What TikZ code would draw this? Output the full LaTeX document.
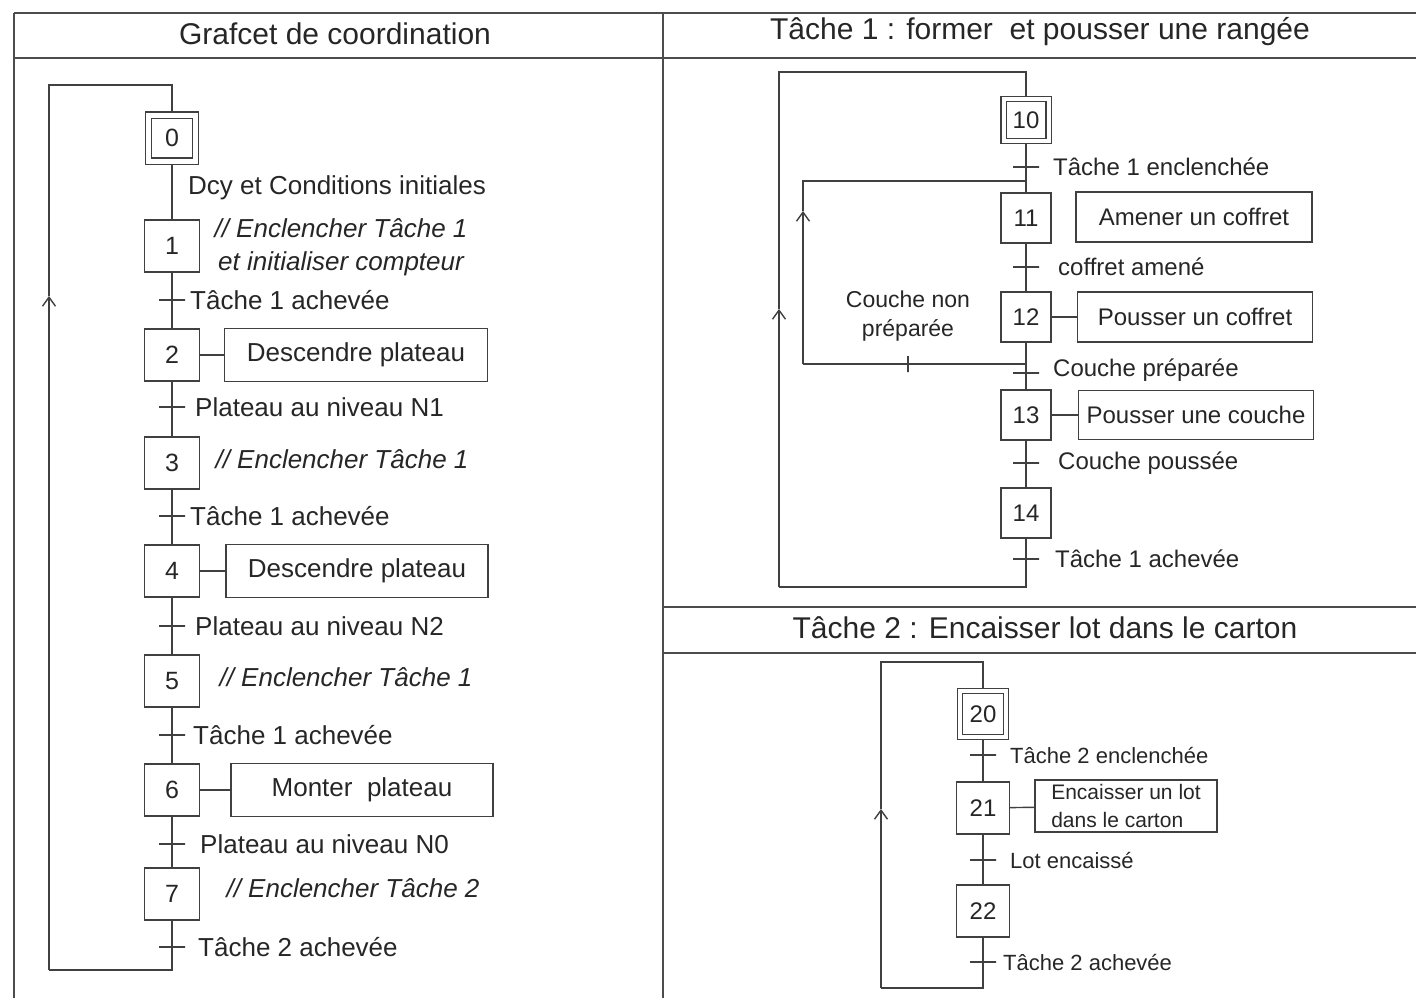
\documentclass[tikz,border=0pt]{standalone}
\usepackage{fontspec}
\setmainfont{Liberation Sans}
\usetikzlibrary{arrows.meta}
\begin{document}
\begin{tikzpicture}[x=1pt,y=-1pt,
  ln/.style={draw=black!75, line width=1.4pt},
  frame/.style={draw=black!70, line width=1.6pt},
  stepbox/.style={draw=black!75, line width=1.4pt, minimum width=55pt, minimum height=52pt, inner sep=0pt, text=black!85, font=\fontsize{25}{30}\selectfont},
  initstep/.style={stepbox, minimum width=47pt, minimum height=46pt, double=white, double distance=5pt, outer sep=3.5pt},
  stepR/.style={stepbox, minimum width=50pt, minimum height=50pt, font=\fontsize{24}{28}\selectfont},
  initR/.style={stepR, minimum width=45pt, minimum height=42pt, double=white, double distance=4pt, outer sep=3pt},
  trans/.style={draw=black!75, line width=1.4pt, minimum width=26pt, minimum height=0pt, inner sep=0pt, outer sep=0pt},
  vtick/.style={trans, minimum width=0pt, minimum height=16pt},
  act/.style={draw=black!75, line width=1.4pt, minimum height=53pt, inner sep=0pt, text=black!85, font=\fontsize{26}{31}\selectfont},
  lbl/.style={inner sep=0pt, anchor=west, text=black!85, font=\fontsize{26}{31}\selectfont},
  lblR/.style={lbl, font=\fontsize{24}{29}\selectfont},
  lblS/.style={lbl, font=\fontsize{22}{27}\selectfont},
  ital/.style={inner sep=0pt, text=black!85, font=\fontsize{26}{33}\selectfont\itshape},
  head/.style={inner sep=0pt, text=black!85, font=\fontsize{30}{36}\selectfont},
  arr/.style={ln, -{Straight Barb[length=9pt,width=13pt]}}
]
\useasboundingbox (0,0) rectangle (1416,998);

% ---------- frame ----------
\coordinate (F1) at (14,13);   \coordinate (F2) at (1416,13);
\coordinate (F3) at (14,58);   \coordinate (F4) at (1416,58);
\coordinate (F5) at (14,998);  \coordinate (F6) at (663,13);
\coordinate (F7) at (663,998);
\coordinate (F8) at (663,607); \coordinate (F9) at (1416,607);
\coordinate (F10) at (663,653); \coordinate (F11) at (1416,653);
\draw[frame] (F1) -- (F2);
\draw[frame] (F3) -- (F4);
\draw[frame] (F1) -- (F5);
\draw[frame] (F6) -- (F7);
\draw[frame] (F8) -- (F9);
\draw[frame] (F10) -- (F11);
\node[head] (h1) at (335,34) {Grafcet de coordination};
\node[head] (h2) at (1040,32) {Tâche 1 : former\ \ et pousser une rangée};
\node[head] (h3) at (1045,628) {Tâche 2 : Encaisser lot dans le carton};

% ---------- Grafcet de coordination ----------
\node[initstep] (s0) at (172,138) {0};
\coordinate (t0) at (172,188);
\node[lbl] (l0) at (188,188) {Dcy et Conditions initiales};
\node[stepbox] (s1) at (172,246) {1};
\node[ital, align=center] (x1) at (341,247) {// Enclencher Tâche 1\\et initialiser compteur};
\node[trans] (t1) at (172,300) {};
\node[lbl] (l1) at (190,300) {Tâche 1 achevée};
\node[stepbox] (s2) at (172,355) {2};
\node[act, minimum width=263pt] (a2) at (356,355) {Descendre plateau};
\node[trans] (t2) at (172,407) {};
\node[lbl] (l2) at (195,407) {Plateau au niveau N1};
\node[stepbox] (s3) at (172,463) {3};
\node[ital] (x3) at (342,459) {// Enclencher Tâche 1};
\node[trans] (t3) at (172,516) {};
\node[lbl] (l3) at (190,516) {Tâche 1 achevée};
\node[stepbox] (s4) at (172,571) {4};
\node[act, minimum width=262pt] (a4) at (357,571) {Descendre plateau};
\node[trans] (t4) at (172,626) {};
\node[lbl] (l4) at (195,626) {Plateau au niveau N2};
\node[stepbox] (s5) at (172,681) {5};
\node[ital] (x5) at (346,677) {// Enclencher Tâche 1};
\node[trans] (t5) at (172,735) {};
\node[lbl] (l5) at (193,735) {Tâche 1 achevée};
\node[stepbox] (s6) at (172,790) {6};
\node[act, minimum width=262pt] (a6) at (362,790) {Monter\ \ plateau};
\node[trans] (t6) at (172,844) {};
\node[lbl] (l6) at (200,844) {Plateau au niveau N0};
\node[stepbox] (s7) at (172,894) {7};
\node[ital] (x7) at (353,888) {// Enclencher Tâche 2};
\node[trans] (t7) at (172,947) {};
\node[lbl] (l7) at (198,947) {Tâche 2 achevée};
\coordinate (Lb) at (172,970);
\coordinate (Lbl) at (49,970);
\coordinate (La) at (49,296);
\coordinate (Ltl) at (49,85);
\coordinate (Lt) at (172,85);

\draw[ln] (s0) -- (t0) -- (s1) -- (t1) -- (s2) -- (t2) -- (s3) -- (t3) -- (s4)
  -- (t4) -- (s5) -- (t5) -- (s6) -- (t6) -- (s7) -- (t7) -- (Lb) -- (Lbl);
\draw[arr] (Lbl) -- (La);
\draw[ln] (La) -- (Ltl) -- (Lt) -- (s0);
\draw[ln] (s2) -- (a2);
\draw[ln] (s4) -- (a4);
\draw[ln] (s6) -- (a6);

% ---------- Tache 1 ----------
\node[initR] (s10) at (1026,120) {10};
\node[trans] (t10) at (1026,167) {};
\node[lblR] (l10) at (1053,167) {Tâche 1 enclenchée};
\coordinate (j1) at (1026,181);
\node[stepR] (s11) at (1026,218) {11};
\node[act, minimum width=236pt, minimum height=50pt, font=\fontsize{24}{29}\selectfont] (a11) at (1194,217) {Amener un coffret};
\node[trans] (t11) at (1026,267) {};
\node[lblR] (l11) at (1058,267) {coffret amené};
\node[stepR] (s12) at (1026,317) {12};
\node[act, minimum width=235pt, minimum height=50pt, font=\fontsize{24}{29}\selectfont] (a12) at (1195,317) {Pousser un coffret};
\coordinate (j2) at (1026,364);
\node[trans] (t12) at (1026,373) {};
\node[lblR] (l12) at (1053,370) {Couche préparée};
\node[stepR] (s13) at (1026,415) {13};
\node[act, minimum width=235pt, minimum height=49pt, font=\fontsize{24}{29}\selectfont] (a13) at (1196,415) {Pousser une couche};
\node[trans] (t13) at (1026,463) {};
\node[lblR] (l13) at (1058,463) {Couche poussée};
\node[stepR] (s14) at (1026,513) {14};
\node[trans] (t14) at (1026,559) {};
\node[lblR] (l14) at (1055,559) {Tâche 1 achevée};
\coordinate (Rb) at (1026,587);
\coordinate (Rbl) at (779,587);
\coordinate (Ra) at (779,309);
\coordinate (Rtl) at (779,72);
\coordinate (Rt) at (1026,72);
% inner loop (Couche non préparée)
\coordinate (Ib) at (803,364);
\node[vtick] (tn) at (908,364) {};
\coordinate (Ia) at (803,211);
\coordinate (It) at (803,181);
\node[inner sep=0pt, align=center, text=black!85, font=\fontsize{23}{29}\selectfont] (ln1) at (908,316) {Couche non\\préparée};

\draw[ln] (s10) -- (t10) -- (j1) -- (s11) -- (t11) -- (s12) -- (j2) -- (t12) -- (s13)
  -- (t13) -- (s14) -- (t14) -- (Rb) -- (Rbl);
\draw[arr] (Rbl) -- (Ra);
\draw[ln] (Ra) -- (Rtl) -- (Rt) -- (s10);
\draw[ln] (j2) -- (tn) -- (Ib);
\draw[arr] (Ib) -- (Ia);
\draw[ln] (Ia) -- (It) -- (j1);
\draw[ln] (s12) -- (a12);
\draw[ln] (s13) -- (a13);

% ---------- Tache 2 ----------
\node[initR, minimum width=46pt, minimum height=46pt] (s20) at (983,714) {20};
\node[trans] (t20) at (983,755) {};
\node[lblS] (l20) at (1010,755) {Tâche 2 enclenchée};
\node[stepR, minimum width=53pt, minimum height=52pt] (s21) at (983,808) {21};
\node[act, minimum width=182pt, minimum height=52pt, align=left, font=\fontsize{21}{28}\selectfont] (a21) at (1126,806) {Encaisser un lot\\dans le carton};
\node[trans] (t21) at (983,860) {};
\node[lblS] (l21) at (1010,860) {Lot encaissé};
\node[stepR, minimum width=53pt, minimum height=52pt] (s22) at (983,911) {22};
\node[trans] (t22) at (983,962) {};
\node[lblS] (l22) at (1003,962) {Tâche 2 achevée};
\coordinate (Tb) at (983,988);
\coordinate (Tbl) at (881,988);
\coordinate (Ta) at (881,809);
\coordinate (Ttl) at (881,662);
\coordinate (Tt) at (983,662);

\draw[ln] (s20) -- (t20) -- (s21) -- (t21) -- (s22) -- (t22) -- (Tb) -- (Tbl);
\draw[arr] (Tbl) -- (Ta);
\draw[ln] (Ta) -- (Ttl) -- (Tt) -- (s20);
\draw[ln] (s21) -- (a21);
\end{tikzpicture}
\end{document}
